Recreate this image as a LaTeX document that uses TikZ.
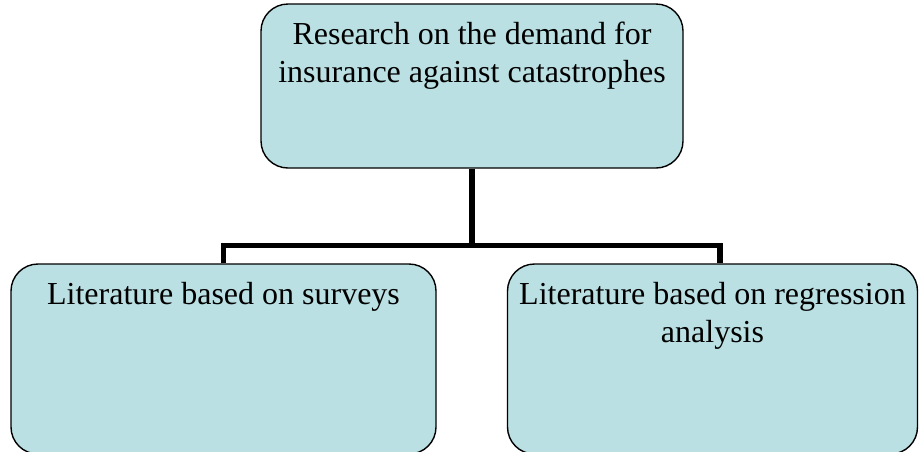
\documentclass[tikz,border=0pt]{standalone}
\usepackage{fontspec}
\setmainfont{Liberation Serif}
\usepackage{tikz}

\definecolor{boxblue}{RGB}{186,224,227}

\begin{document}
\begin{tikzpicture}[x=1pt, y=-1pt,
    box/.style={draw=black, line width=1.4pt, fill=boxblue, rounded corners=27pt,
                inner sep=0pt, minimum width=#1},
    boxtext/.style={anchor=north, inner sep=0pt, align=center,
                font=\fontsize{32}{38}\selectfont},
    link/.style={line width=5.5pt, line join=miter}]
    % Frame of the picture
    \useasboundingbox (0,0) rectangle (923,451);
    \clip (0,0) rectangle (923,451);

    % Top box
    \node[box=422pt, minimum height=164pt] (research) at (472,86) {};
    \node[boxtext] (researchtxt) at (472,22)
        {Research on the demand for\\insurance against catastrophes};

    % Bottom boxes
    \node[box=425pt, minimum height=190pt] (surveys) at (223.5,359) {};
    \node[boxtext] (surveystxt) at (223.5,282) {Literature based on surveys};
    \node[box=410pt, minimum height=190pt] (regression) at (712.5,359) {};
    \node[boxtext] (regressiontxt) at (712.5,282)
        {Literature based on regression\\analysis};

    % Connectors
    \coordinate (fork) at (472,245.5);
    \draw[link] (research.south) -- (fork);
    \draw[link] (surveys.north) |- (fork) -| ([xshift=7.5pt]regression.north);
\end{tikzpicture}
\end{document}
